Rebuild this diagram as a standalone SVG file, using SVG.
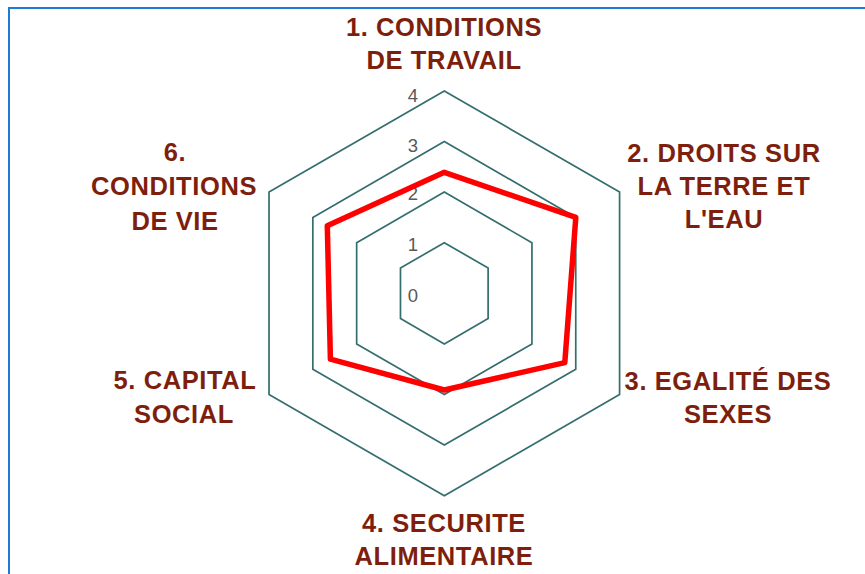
<svg xmlns="http://www.w3.org/2000/svg" width="865" height="574" viewBox="0 0 865 574">
<style>
.grid{fill:none;stroke:#356e6e;stroke-width:1.7;stroke-linejoin:miter}
.tick{font-family:"Liberation Sans",Arial,sans-serif;font-size:18.5px;fill:#595959;text-anchor:middle}
.cat{font-family:"Liberation Sans",Arial,sans-serif;font-size:25.5px;font-weight:bold;fill:#7e1f0e;text-anchor:middle;letter-spacing:0.6px}
.data{fill:none;stroke:#ff0000;stroke-width:5.5;stroke-linejoin:round}
</style>
<rect x="0" y="0" width="865" height="574" fill="#ffffff"/>
<rect x="9" y="8" width="900" height="620" fill="none" stroke="#1f7bd2" stroke-width="2"/>
<g id="grid">
<polygon class="grid" points="444.3,242.7 488.12,268 488.12,318.6 444.3,343.9 400.48,318.6 400.48,268"/>
<polygon class="grid" points="444.3,192.1 531.94,242.7 531.94,343.9 444.3,394.5 356.66,343.9 356.66,242.7"/>
<polygon class="grid" points="444.3,141.5 575.76,217.4 575.76,369.2 444.3,445.1 312.84,369.2 312.84,217.4"/>
<polygon class="grid" points="444.3,90.9 619.58,192.1 619.58,394.5 444.3,495.7 269.02,394.5 269.02,192.1"/>
</g>
<g id="ticks">
<text class="tick" x="413" y="301.5">0</text>
<text class="tick" x="413" y="250.9">1</text>
<text class="tick" x="413" y="200.3">2</text>
<text class="tick" x="413" y="152">3</text>
<text class="tick" x="413" y="101.5">4</text>
</g>
<g id="connectors">
<polygon class="data" points="444.3,172.3 575.8,217.4 564.8,362.6 444.3,390 330.4,359.1 327.3,225.8"/>
</g>
<g id="axis1"><text class="cat" x="444" y="36">1. CONDITIONS</text><text class="cat" x="444" y="69">DE TRAVAIL</text></g>
<g id="axis2"><text class="cat" x="724" y="162">2. DROITS SUR</text><text class="cat" x="724" y="195">LA TERRE ET</text><text class="cat" x="724" y="228">L'EAU</text></g>
<g id="axis3"><text class="cat" x="728" y="390">3. EGALITÉ DES</text><text class="cat" x="728" y="423">SEXES</text></g>
<g id="axis4"><text class="cat" x="444" y="532">4. SECURITE</text><text class="cat" x="444" y="565">ALIMENTAIRE</text></g>
<g id="axis5"><text class="cat" x="185" y="389">5. CAPITAL</text><text class="cat" x="184" y="423">SOCIAL</text></g>
<g id="axis6"><text class="cat" x="175" y="161">6.</text><text class="cat" x="174" y="195">CONDITIONS</text><text class="cat" x="175" y="230">DE VIE</text></g>
</svg>
